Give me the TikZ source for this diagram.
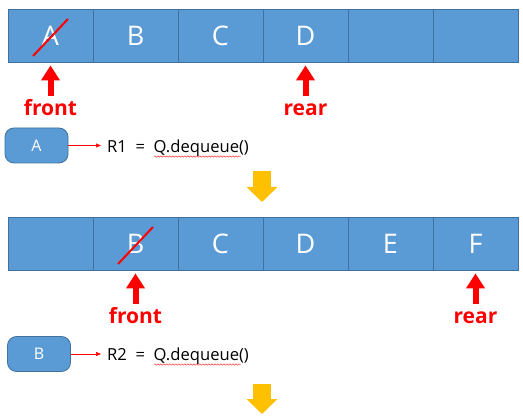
\documentclass[tikz,border=0pt]{standalone}
\usepackage{fontspec}
\setmainfont{Open Sans}
\usepackage{tikz}
\usetikzlibrary{arrows.meta,positioning,calc,decorations.pathmorphing}
\definecolor{cellblue}{HTML}{5B9BD5}
\definecolor{cellline}{HTML}{41719C}
\definecolor{markred}{HTML}{FF0000}
\definecolor{flowyellow}{HTML}{FFC000}

\begin{document}
\begin{tikzpicture}[
      x=1pt, y=-1pt,
      cell/.style={rectangle, draw=cellline, fill=cellblue, line width=0.8pt,
                   minimum width=85pt, minimum height=53pt, inner sep=0pt,
                   text=white, font=\fontsize{27}{30}\selectfont},
      ptr/.style={-{Triangle[length=15pt,width=18pt]}, line width=6pt, color=markred},
      ptrlabel/.style={text=markred, inner sep=0pt, text height=15pt, text depth=0pt,
                       font=\fontsize{21}{24}\selectfont\bfseries},
      outbox/.style={rectangle, rounded corners=9pt, draw=cellline, fill=cellblue,
                     line width=0.8pt, minimum width=63pt, minimum height=35pt,
                     text=white, font=\fontsize{16}{18}\selectfont},
      result/.style={anchor=base west, inner sep=0pt, font=\fontsize{16.6}{18}\selectfont},
      link/.style={-{Triangle[length=5pt,width=4pt]}, color=markred, line width=0.6pt},
      strike/.style={markred, line width=2pt},
      squiggle/.style={markred, line width=0.4pt, decorate,
                       decoration={snake, amplitude=0.7pt, segment length=3pt}},
      flow/.style={-{Triangle[length=15pt,width=30pt]}, line width=18pt, color=flowyellow}
    ]
      \useasboundingbox (0,0) rectangle (523,417);
      %% queue before the first dequeue
      \foreach \name/\val [count=\i] in {a/A,b/B,c/C,d/D,e/,f/}
        \node[cell] (q1\name) at ({8+85*(\i-0.5)}, 35.5) {\val};
      \draw[strike] ($(q1a.center)+(-17.5,20.5)$) -- ($(q1a.center)+(17.5,-16.5)$);
      \node[ptrlabel, below=38pt of q1a] (front1) {front};
      \node[ptrlabel, anchor=base] (rear1) at (q1d |- front1.base) {rear};
      \draw[ptr] ([yshift=4pt]front1.north) -- ([yshift=-3pt]front1.north |- q1a.south);
      \draw[ptr] ([yshift=4pt]rear1.north) -- ([yshift=-3pt]rear1.north |- q1d.south);
      \node[outbox] (out1) at (36.5, 145.5) {A};
      \node[result] (res1) at (107, 153) {R1~~=~~Q.dequeue()};
      \draw[link, shorten >=6pt] (out1.east) -- (out1.east -| res1.west);
      \draw[squiggle] (154, 156.5) -- (241, 156.5);
      \coordinate (flow1s) at (262, 171);
      \coordinate (flow1e) at (262, 202);
      \draw[flow] (flow1s) -- (flow1e);
      %% queue after it
      \foreach \name/\val [count=\i] in {a/,b/B,c/C,d/D,e/E,f/F}
        \node[cell] (q2\name) at ({8+85*(\i-0.5)}, 243.5) {\val};
      \draw[strike] ($(q2b.center)+(-17.5,20.5)$) -- ($(q2b.center)+(17.5,-16.5)$);
      \node[ptrlabel, below=38pt of q2b] (front2) {front};
      \node[ptrlabel, anchor=base] (rear2) at (q2f |- front2.base) {rear};
      \draw[ptr] ([yshift=4pt]front2.north) -- ([yshift=-3pt]front2.north |- q2b.south);
      \draw[ptr] ([yshift=4pt]rear2.north) -- ([yshift=-3pt]rear2.north |- q2f.south);
      \node[outbox] (out2) at (39, 354) {B};
      \node[result] (res2) at (107, 361) {R2~~=~~Q.dequeue()};
      \draw[link, shorten >=6pt] (out2.east) -- (out2.east -| res2.west);
      \draw[squiggle] (154, 364.5) -- (241, 364.5);
      \coordinate (flow2s) at (262, 384);
      \coordinate (flow2e) at (262, 414);
      \draw[flow] (flow2s) -- (flow2e);
    \end{tikzpicture}
\end{document}
